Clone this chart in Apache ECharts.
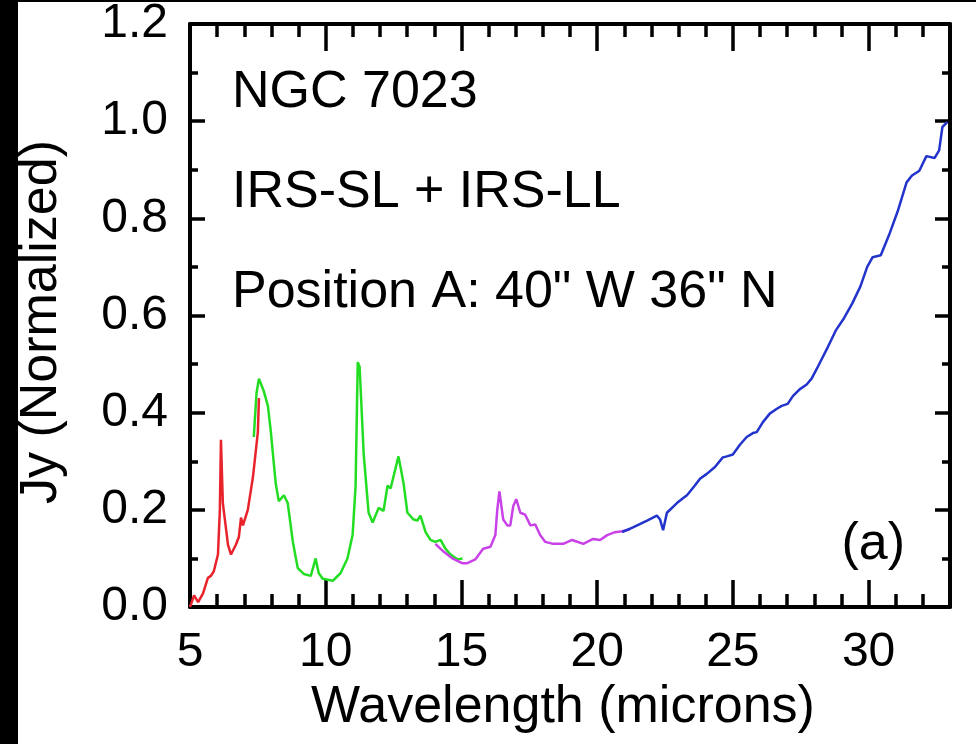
<!DOCTYPE html>
<html>
<head>
<meta charset="utf-8">
<script src="https://cdn.jsdelivr.net/npm/echarts@6/dist/echarts.min.js"></script>
<style>html,body{margin:0;padding:0;background:#fff;}#c{width:976px;height:744px;}</style>
</head>
<body>
<div id="c"></div>
<script>
// ---- data (wavelength in microns, flux normalized) ----
var redWave = [5.0,5.15,5.3,5.48,5.66,5.77,5.88,6.03,6.10,6.14,6.21,6.4,6.51,6.69,6.8,6.88,6.95,7.13,7.32,7.5,7.54];
var redFlux = [0.0,0.024,0.01,0.028,0.06,0.064,0.074,0.108,0.2,0.344,0.214,0.128,0.108,0.128,0.144,0.184,0.168,0.2,0.268,0.36,0.43];

var greenWave = [7.35,7.45,7.54,7.72,7.87,7.98,8.08,8.16,8.27,8.46,8.6,8.79,8.97,9.19,9.45,9.63,9.74,9.89,10.26,10.55,10.8,10.99,11.1,11.18,11.25,11.4,11.58,11.73,11.95,12.13,12.28,12.39,12.68,12.87,13.01,13.24,13.38,13.49,13.68,13.86,14.04,14.23,14.41,14.6,14.85,15.04];
var greenFlux = [0.35,0.44,0.47,0.444,0.414,0.36,0.3,0.254,0.218,0.23,0.214,0.134,0.08,0.068,0.064,0.1,0.07,0.058,0.054,0.07,0.1,0.148,0.248,0.504,0.494,0.314,0.194,0.174,0.204,0.198,0.25,0.244,0.31,0.254,0.194,0.18,0.178,0.188,0.154,0.138,0.134,0.138,0.12,0.108,0.098,0.1];

var purpleWave = [14.04,14.34,14.67,15.04,15.2,15.51,15.8,16.07,16.25,16.32,16.4,16.54,16.69,16.8,16.91,17.02,17.17,17.35,17.54,17.72,17.9,18.09,18.38,18.75,19.08,19.49,19.85,20.11,20.37,20.66,20.92,21.21];
var purpleFlux = [0.13,0.114,0.1,0.09,0.09,0.098,0.12,0.124,0.148,0.2,0.238,0.18,0.168,0.168,0.208,0.222,0.194,0.19,0.168,0.17,0.148,0.134,0.13,0.13,0.138,0.13,0.14,0.138,0.148,0.154,0.156,0.16];

var blueWave = [20.92,21.32,21.84,22.2,22.32,22.43,22.57,22.94,23.16,23.31,23.6,23.79,24.04,24.34,24.63,24.78,25.0,25.26,25.51,25.74,25.88,26.1,26.36,26.62,26.8,27.02,27.21,27.46,27.72,27.9,28.09,28.27,28.5,28.8,29.1,29.4,29.7,29.95,30.15,30.45,30.75,31.07,31.4,31.6,31.87,32.13,32.43,32.6,32.72,32.9];
var blueFlux = [0.154,0.164,0.178,0.188,0.18,0.158,0.194,0.214,0.224,0.23,0.25,0.264,0.274,0.288,0.308,0.31,0.314,0.334,0.35,0.358,0.36,0.38,0.398,0.408,0.414,0.418,0.434,0.448,0.458,0.47,0.49,0.51,0.535,0.57,0.595,0.625,0.66,0.7,0.72,0.724,0.765,0.814,0.874,0.888,0.898,0.928,0.924,0.94,0.988,0.998];

var xTickLabels = ['5','10','15','20','25','30'];
var yTickLabels = ['0.0','0.2','0.4','0.6','0.8','1.0','1.2'];
var annotations = ['NGC 7023','IRS-SL + IRS-LL','Position A: 40" W 36" N'];
var panelLabel = '(a)';
var xTitle = 'Wavelength (microns)';
var yTitle = 'Jy (Normalized)';

function pairs(xs, ys){ return xs.map(function(x,i){ return [x, ys[i]]; }); }

var FONT = '"Liberation Sans", Arial, Helvetica, sans-serif';
var AX = {color:'#000', width:4};

function xAx(pos, showLabel){
  return {
    type:'value', position:pos, min:5, max:33, interval:5,
    axisLine:{show:true, onZero:false, lineStyle:AX},
    axisTick:{show:true, inside:true, length:27, lineStyle:{color:'#000', width:3.5}},
    minorTick:{show:true, splitNumber:5, length:13, lineStyle:{color:'#000', width:3.5}},
    axisLabel:{show:showLabel, margin:22, fontSize:48, color:'#000', fontFamily:FONT,
      formatter:function(v){ var s = String(Math.round(v)); return xTickLabels.indexOf(s) >= 0 ? s : ''; }},
    splitLine:{show:false}, minorSplitLine:{show:false}
  };
}
function yAx(pos, showLabel){
  return {
    type:'value', position:pos, min:0, max:1.2, interval:0.2,
    axisLine:{show:true, onZero:false, lineStyle:AX},
    axisTick:{show:true, inside:true, length:15, lineStyle:{color:'#000', width:3.5}},
    minorTick:{show:true, splitNumber:2, length:8, lineStyle:{color:'#000', width:3.5}},
    axisLabel:{show:showLabel, margin:22, fontSize:48, color:'#000', fontFamily:FONT,
      formatter:function(v){ var s = v.toFixed(1); return yTickLabels.indexOf(s) >= 0 ? s : ''; }},
    splitLine:{show:false}, minorSplitLine:{show:false}
  };
}

var chart = echarts.init(document.getElementById('c'), null, {renderer:'canvas'});
chart.setOption({
  backgroundColor:'#fff',
  animation:false,
  grid:{left:190, right:26, top:7, bottom:137, containLabel:false},
  xAxis:[ xAx('bottom', true), xAx('top', false) ],
  yAxis:[ yAx('left', true), yAx('right', false) ],
  series:[
    {type:'line', name:'SL1', data:pairs(greenWave,greenFlux), symbol:'none', lineStyle:{color:'#22dd22', width:2.5}, xAxisIndex:0, yAxisIndex:0},
    {type:'line', name:'SL2', data:pairs(redWave,redFlux), symbol:'none', lineStyle:{color:'#e8232b', width:2.5}, xAxisIndex:0, yAxisIndex:0},
    {type:'line', name:'LL2', data:pairs(purpleWave,purpleFlux), symbol:'none', lineStyle:{color:'#c842e8', width:2.5}, xAxisIndex:0, yAxisIndex:0},
    {type:'line', name:'LL1', data:pairs(blueWave,blueFlux), symbol:'none', lineStyle:{color:'#2334cc', width:2.5}, xAxisIndex:0, yAxisIndex:0}
  ],
  graphic:[
    {type:'rect', left:0, top:0, shape:{width:18, height:744}, style:{fill:'#000'}, z:100},
    {type:'rect', left:0, top:0, shape:{width:976, height:2}, style:{fill:'#000'}, z:100},
    {type:'text', x:232, y:93, style:{text:annotations[0], font:'52px '+FONT, fill:'#000', textVerticalAlign:'middle'}, z:50},
    {type:'text', x:232, y:193, style:{text:annotations[1], font:'52px '+FONT, fill:'#000', textVerticalAlign:'middle'}, z:50},
    {type:'text', x:232, y:293, style:{text:annotations[2], font:'52px '+FONT, fill:'#000', textVerticalAlign:'middle'}, z:50},
    {type:'text', x:905, y:545, style:{text:panelLabel, font:'52px '+FONT, fill:'#000', textAlign:'right', textVerticalAlign:'middle'}, z:50},
    {type:'text', x:563, y:708, style:{text:xTitle, font:'52px '+FONT, fill:'#000', textAlign:'center', textVerticalAlign:'middle'}, z:50},
    {type:'text', x:42, y:322, rotation:Math.PI/2, style:{text:yTitle, font:'52px '+FONT, fill:'#000', textAlign:'center', textVerticalAlign:'middle'}, z:50}
  ]
});
</script>
</body>
</html>
